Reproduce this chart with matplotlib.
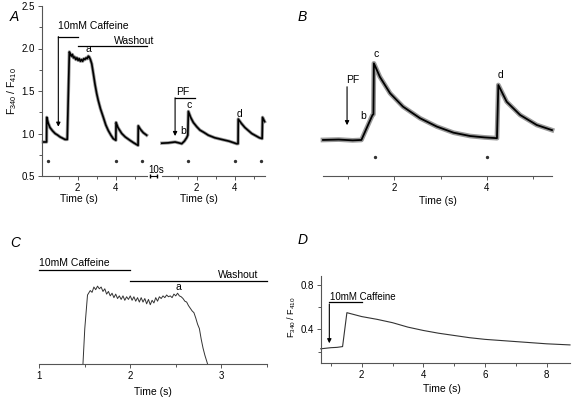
import matplotlib
matplotlib.use('Agg')
import matplotlib.pyplot as plt
from matplotlib.lines import Line2D
from matplotlib.ticker import MultipleLocator, FormatStrFormatter

plt.rcParams['font.family'] = ['Liberation Sans', 'DejaVu Sans']
plt.rcParams['mathtext.default'] = 'regular'
plt.rcParams['font.size'] = 7

# ---- data ----
# panel A, left part (caffeine + washout)
a1_t = [0.19, 0.36, 0.37, 0.45, 0.54, 0.68, 0.81, 0.95, 1.07, 1.2, 1.33, 1.45,
        1.56, 1.60, 1.66, 1.72, 1.78, 1.84, 1.90, 1.96, 2.02, 2.08, 2.14, 2.20,
        2.26, 2.32, 2.38, 2.44, 2.50, 2.56, 2.61, 2.67, 2.74, 2.82, 2.91, 3.0,
        3.08, 3.2, 3.35, 3.48, 3.61, 3.75, 3.87, 4.01, 4.02, 4.12, 4.32, 4.5,
        4.75, 4.95, 5.18, 5.19, 5.3, 5.45, 5.63]
a1_v = [0.90, 0.90, 1.19, 1.12, 1.07, 1.03, 1.0, 0.98, 0.96, 0.945, 0.93, 0.93,
        1.96, 1.94, 1.91, 1.93, 1.89, 1.90, 1.87, 1.89, 1.86, 1.88, 1.85, 1.87,
        1.85, 1.88, 1.87, 1.89, 1.88, 1.91, 1.90, 1.87, 1.82, 1.71, 1.58, 1.47,
        1.39, 1.29, 1.19, 1.10, 1.035, 0.98, 0.94, 0.92, 1.13, 1.07, 1.0, 0.96,
        0.92, 0.89, 0.86, 1.09, 1.05, 1.01, 0.98]
a1_star_t = [0.45, 4.02, 5.37]

# panel A, right part (PF)
a2_t = [0.16, 0.5, 0.86, 1.05, 1.21, 1.35, 1.47, 1.53, 1.56, 1.68, 1.82, 2.0,
        2.17, 2.4, 2.61, 2.95, 3.32, 3.7, 4.1, 4.18, 4.19, 4.35, 4.54, 4.9,
        5.1, 5.3, 5.45, 5.47, 5.58]
a2_v = [0.886, 0.89, 0.90, 0.89, 0.88, 0.91, 0.95, 0.98, 1.26, 1.19, 1.13, 1.08,
        1.04, 1.01, 0.98, 0.95, 0.93, 0.91, 0.88, 0.88, 1.17, 1.12, 1.07, 1.0,
        0.975, 0.95, 0.94, 1.19, 1.14]
a2_star_t = [1.53, 4.02, 5.38]

# panel B (PF, expanded)
b_t = [0.46, 0.8, 1.1, 1.29, 1.53, 1.55, 1.56, 1.69, 1.91, 2.19, 2.56, 2.92,
       3.28, 3.64, 3.95, 4.22, 4.25, 4.43, 4.72, 5.08, 5.41]
b_v = [0.88, 0.882, 0.878, 0.88, 1.007, 1.01, 1.269, 1.20, 1.117, 1.049, 0.99,
       0.948, 0.917, 0.90, 0.893, 0.889, 1.159, 1.074, 1.007, 0.956, 0.93]
b_star_t = [1.58, 4.0]

# panel C (caffeine plateau, expanded)
c_t = [1.48, 1.50, 1.53, 1.56, 1.58, 1.60, 1.62, 1.64, 1.66, 1.68, 1.70, 1.72,
       1.74, 1.76, 1.78, 1.80, 1.82, 1.84, 1.86, 1.88, 1.90, 1.92, 1.94, 1.96,
       1.98, 2.00, 2.02, 2.04, 2.06, 2.08, 2.10, 2.12, 2.14, 2.16, 2.18, 2.20,
       2.22, 2.24, 2.26, 2.28, 2.30, 2.32, 2.34, 2.36, 2.38, 2.40, 2.42, 2.44,
       2.46, 2.48, 2.50, 2.52, 2.54, 2.56, 2.58, 2.60, 2.62, 2.64, 2.66, 2.68,
       2.70, 2.72, 2.74, 2.76, 2.78, 2.80, 2.82, 2.85]
c_v = [1.50, 1.70, 1.89, 1.915, 1.905, 1.935, 1.92, 1.94, 1.925, 1.935, 1.91, 1.925,
       1.895, 1.91, 1.885, 1.90, 1.875, 1.895, 1.87, 1.885, 1.865, 1.885, 1.86, 1.88,
       1.865, 1.885, 1.86, 1.88, 1.855, 1.875, 1.85, 1.875, 1.85, 1.87, 1.84, 1.865,
       1.835, 1.86, 1.845, 1.875, 1.855, 1.88, 1.87, 1.885, 1.875, 1.89, 1.88, 1.885,
       1.875, 1.895, 1.885, 1.90, 1.885, 1.88, 1.87, 1.855, 1.85, 1.83, 1.815, 1.80,
       1.79, 1.76, 1.725, 1.70, 1.64, 1.59, 1.55, 1.50]

# panel D
d_t = [0.67, 1.0, 1.2, 1.38, 1.52, 2.0, 2.5, 3.0, 3.5, 4.0, 4.5, 5.0, 5.5, 6.0,
       6.5, 7.0, 7.5, 8.0, 8.76]
d_v = [0.225, 0.235, 0.238, 0.245, 0.55, 0.515, 0.49, 0.46, 0.42, 0.39, 0.365,
       0.345, 0.325, 0.31, 0.30, 0.29, 0.28, 0.27, 0.26]

W, H = 577, 398
fig = plt.figure(figsize=(W / 100, H / 100), dpi=100)


def add_ax(x0, x1, ytop, ybot):
    return fig.add_axes([x0 / W, 1 - ybot / H, (x1 - x0) / W, (ybot - ytop) / H])


def style(ax, left=True):
    for s in ['top', 'right']:
        ax.spines[s].set_visible(False)
    if not left:
        ax.spines['left'].set_visible(False)
        ax.set_yticks([])
    for s in ['left', 'bottom']:
        ax.spines[s].set_color('#555555')
        ax.spines[s].set_linewidth(0.8)
    ax.tick_params(which='both', direction='out', color='#555555', width=0.7,
                   labelsize=7, pad=2)
    ax.tick_params(which='major', length=3)
    ax.tick_params(which='minor', length=2)
    ax.patch.set_visible(False)


def trace(ax, t, v, band=2.6, core=1.1):
    ax.plot(t, v, color='#9a9a9a', lw=band, solid_joinstyle='round', clip_on=False)
    ax.plot(t, v, color='black', lw=core, clip_on=False)


def arrow(ax, t, v0, v1):
    ax.annotate('', xy=(t, v1), xytext=(t, v0),
                arrowprops=dict(arrowstyle='-|>', lw=0.8, color='black',
                                mutation_scale=6, shrinkA=0, shrinkB=0))


def bar(ax, t0, t1, v):
    ax.plot([t0, t1], [v, v], color='black', lw=0.9, clip_on=False)


def stars(ax, t, v):
    ax.plot(t, [v] * len(t), ls='none', marker='o', ms=1.4, color='#333333')


# ---- panel A ----
axA1 = add_ax(42, 147, 6, 176)
axA1.set_xlim(0.12, 5.65)
axA1.set_ylim(0.5, 2.5)
style(axA1)
axA1.yaxis.set_major_locator(MultipleLocator(0.5))
axA1.yaxis.set_minor_locator(MultipleLocator(0.25))
axA1.yaxis.set_major_formatter(FormatStrFormatter('%.1f'))
axA1.set_xticks([2, 4])
axA1.set_xticks([1, 3, 5], minor=True)
trace(axA1, a1_t, a1_v, band=2.4, core=1.2)
stars(axA1, a1_star_t, 0.68)
arrow(axA1, 0.98, 2.14, 1.08)
bar(axA1, 0.98, 2.0, 2.14)
bar(axA1, 2.0, 5.65, 2.03)
axA1.text(0.98, 2.27, '10mM Caffeine', fontsize=7.5, ha='left', va='center')
axA1.text(6.02, 2.09, 'Washout', fontsize=7.5, ha='right', va='center')
axA1.text(2.54, 1.99, 'a', fontsize=7.5, ha='center', va='center')
axA1.set_ylabel('F$_{340}$ / F$_{410}$', fontsize=7.5)
axA1.yaxis.set_label_coords(-0.215, 0.5)
axA1.set_xlabel('Time (s)', fontsize=7.5)
axA1.xaxis.set_label_coords(0.35, -0.105)

axA2 = add_ax(162, 265, 6, 176)
axA2.set_xlim(0.17, 5.6)
axA2.set_ylim(0.5, 2.5)
style(axA2, left=False)
axA2.set_xticks([2, 4])
axA2.set_xticks([1, 3, 5], minor=True)
trace(axA2, a2_t, a2_v, band=2.4, core=1.2)
stars(axA2, a2_star_t, 0.68)
arrow(axA2, 0.86, 1.42, 0.97)
bar(axA2, 0.86, 1.91, 1.42)
axA2.text(0.93, 1.485, 'PF', fontsize=7.5, ha='left', va='center')
axA2.text(1.28, 1.035, 'b', fontsize=7.5, ha='center', va='center')
axA2.text(1.6, 1.34, 'c', fontsize=7.5, ha='center', va='center')
axA2.text(4.23, 1.235, 'd', fontsize=7.5, ha='center', va='center')
axA2.set_xlabel('Time (s)', fontsize=7.5)
axA2.xaxis.set_label_coords(0.36, -0.105)

# 10 s gap marker between the two halves of A
fig.text(156 / W, 1 - 170 / H, '10s', fontsize=7, ha='center', va='center')
fig.add_artist(Line2D([150 / W, 157 / W], [1 - 176 / H, 1 - 176 / H], color='black',
                      lw=0.8, marker='|', ms=2.5, transform=fig.transFigure))

# ---- panel B ----
axB = add_ax(323, 552, 8, 176)
axB.set_xlim(0.46, 5.41)
axB.set_ylim(0.697, 1.55)
style(axB, left=False)
axB.set_xticks([2, 4])
axB.set_xticks([1, 3, 5], minor=True)
trace(axB, b_t, b_v, band=3.4, core=1.3)
stars(axB, b_star_t, 0.794)
arrow(axB, 0.98, 1.15, 0.955)
axB.text(0.95, 1.185, 'PF', fontsize=7.5, ha='left', va='center')
axB.text(1.33, 1.0, 'b', fontsize=7.5, ha='center', va='center')
axB.text(1.6, 1.317, 'c', fontsize=7.5, ha='center', va='center')
axB.text(4.29, 1.21, 'd', fontsize=7.5, ha='center', va='center')
axB.set_xlabel('Time (s)', fontsize=7.5)
axB.xaxis.set_label_coords(0.5, -0.12)

# ---- panel C ----
axC = add_ax(39.3, 266.7, 255, 364)
axC.set_xlim(1.0, 3.5)
axC.set_ylim(1.5, 2.116)
style(axC, left=False)
axC.set_xticks([1, 2, 3])
axC.set_xticks([1.5, 2.5, 3.5], minor=True)
axC.plot(c_t, c_v, color='#333333', lw=0.7, clip_on=False)
bar(axC, 1.0, 2.0, 2.03)
bar(axC, 2.0, 3.5, 1.97)
axC.text(1.0, 2.068, '10mM Caffeine', fontsize=7.5, ha='left', va='center')
axC.text(3.41, 2.003, 'Washout', fontsize=7.5, ha='right', va='center')
axC.text(2.53, 1.937, 'a', fontsize=7.5, ha='center', va='center')
axC.set_xlabel('Time (s)', fontsize=7.5)
axC.xaxis.set_label_coords(0.5, -0.21)

# ---- panel D ----
axD = add_ax(320.7, 570, 276, 362.7)
axD.set_xlim(0.67, 8.76)
axD.set_ylim(0.1, 0.88)
style(axD)
axD.set_yticks([0.4, 0.8])
axD.set_yticks([0.2, 0.6], minor=True)
axD.yaxis.set_major_formatter(FormatStrFormatter('%.1f'))
axD.set_xticks([2, 4, 6, 8])
axD.set_xticks([1, 3, 5, 7], minor=True)
axD.plot(d_t, d_v, color='#333333', lw=0.8, clip_on=False)
arrow(axD, 0.95, 0.628, 0.275)
bar(axD, 0.95, 2.0, 0.649)
axD.text(0.98, 0.694, '10mM Caffeine', fontsize=7, ha='left', va='center')
axD.set_ylabel('F$_{340}$ / F$_{410}$', fontsize=6.5)
axD.yaxis.set_label_coords(-0.092, 0.53)
axD.set_xlabel('Time (s)', fontsize=7.5)
axD.xaxis.set_label_coords(0.485, -0.25)

# panel letters
for x, y, s in [(10, 17, 'A'), (298, 17, 'B'), (10, 243, 'C'), (298, 240, 'D')]:
    fig.text(x / W, 1 - y / H, s, fontsize=10, style='italic', ha='left', va='center')

fig.savefig('out.png', dpi=100)
